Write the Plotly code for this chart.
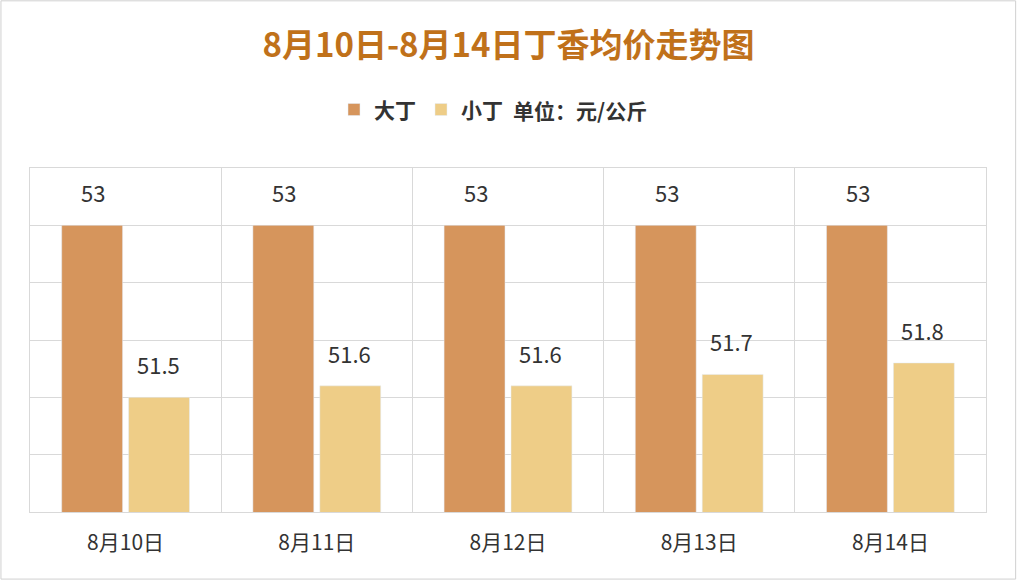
import plotly.graph_objects as go

dates = ["8月10日", "8月11日", "8月12日", "8月13日", "8月14日"]
big = [53, 53, 53, 53, 53]
small = [51.5, 51.6, 51.6, 51.7, 51.8]

font = "Noto Sans CJK SC"
fig = go.Figure()
fig.add_trace(go.Bar(name="大丁", x=dates, y=big, marker_color="#D6955C"))
fig.add_trace(go.Bar(name="小丁", x=dates, y=small, marker_color="#EECD87"))

# value labels above bars
for i, d in enumerate(dates):
    for off, vals in ((-0.17, big), (0.17, small)):
        fig.add_annotation(x=i + off, y=vals[i], text=str(vals[i]), showarrow=False,
                           yanchor="bottom", yshift=15, font=dict(size=22, color="#333333"))

fig.add_annotation(x=0.503, y=1.169, xref="paper", yref="paper", xanchor="left", yanchor="middle",
                   showarrow=False, text="单位：元/公斤",
                   font=dict(size=21, color="#333333", family=font, weight="bold"))
fig.add_shape(type="rect", xref="paper", yref="paper", x0=-0.0304, x1=1.031, y0=-0.195, y1=1.486,
              line=dict(color="#D0D0D0", width=1))

fig.update_layout(
    width=1017, height=580,
    margin=dict(l=30, r=31, t=168, b=68),
    paper_bgcolor="white", plot_bgcolor="white",
    font=dict(family=font, color="#333333"),
    title=dict(text="8月10日-8月14日丁香均价走势图", x=0.5, xanchor="center", y=0.922, yanchor="middle",
               font=dict(size=33, color="#C0711A", family=font, weight="bold")),
    legend=dict(orientation="h", x=0.5, xanchor="right", y=1.169, yanchor="middle",
                font=dict(size=21, family=font, weight="bold"), itemwidth=30),
    bargap=0.3, bargroupgap=0.09,
    showlegend=True,
)
fig.update_xaxes(tickson="boundaries", showgrid=True, gridcolor="#D9D9D9",
                 tickfont=dict(size=21), showline=True, linecolor="#D9D9D9", mirror=True,
                 ticklabelstandoff=12)
fig.update_yaxes(range=[50.5, 53.5], dtick=0.5, showticklabels=False, gridcolor="#D9D9D9",
                 showline=True, linecolor="#D9D9D9", mirror=True, zeroline=False)

fig.write_html("out.html", post_script="document.body.style.margin='0';",
               config={"displayModeBar": False})
